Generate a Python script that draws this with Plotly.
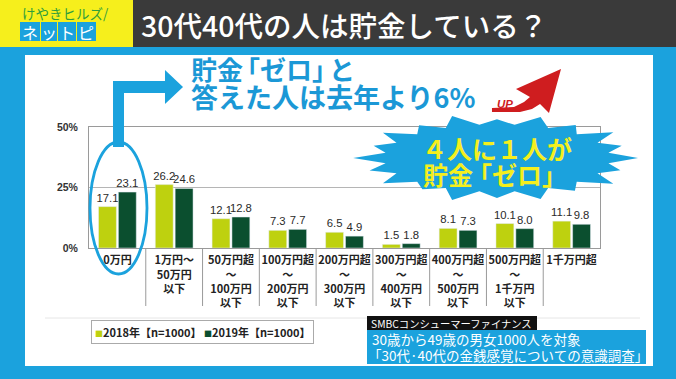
import math
import plotly.graph_objects as go

# ---------------- data ----------------
categories = [
    "0万円",
    "1万円～<br>50万円<br>以下",
    "50万円超<br>～<br>100万円<br>以下",
    "100万円超<br>～<br>200万円<br>以下",
    "200万円超<br>～<br>300万円<br>以下",
    "300万円超<br>～<br>400万円<br>以下",
    "400万円超<br>～<br>500万円<br>以下",
    "500万円超<br>～<br>1千万円<br>以下",
    "1千万円超",
]
values_2018 = [17.1, 26.2, 12.1, 7.3, 6.5, 1.5, 8.1, 10.1, 11.1]
values_2019 = [23.1, 24.6, 12.8, 7.7, 4.9, 1.8, 7.3, 8.0, 9.8]
series_names = ["2018年【n=1000】", "2019年【n=1000】"]
y_tick_values = [0, 25, 50]
y_tick_labels = ["0%", "25%", "50%"]

# ---------------- styling ----------------
W, H = 676, 379
PL, PR, PT, PB = 89, 600, 127, 248   # plot area in pixels
JP = "Noto Sans CJK JP"
C_LIGHT = "#bed10f"
C_DARK = "#0b4f2f"
C_BLUE = "#1ba2dd"
C_TXTBLUE = "#1b98d6"


def px(x):
    return (x - PL) / (PR - PL)


def py(y):
    return (PB - y) / (PB - PT)


def path(points):
    return "M " + " L ".join(f"{px(x):.4f},{py(y):.4f}" for x, y in points) + " Z"


def rect(x0, y0, x1, y1, color, layer="above", line=None):
    d = dict(type="rect", xref="paper", yref="paper",
             x0=px(x0), x1=px(x1), y0=py(y1), y1=py(y0),
             fillcolor=color, layer=layer, line=dict(width=0))
    if line:
        d["line"] = line
    return d


def tight(s, sp):
    """compress the blank half of the corner brackets"""
    out = ""
    for i, ch in enumerate(s):
        nxt = s[i + 1] if i + 1 < len(s) else ""
        if nxt == "「" or (ch == "」" and nxt):
            out += f"<span style='letter-spacing:-{sp}px'>{ch}</span>"
        else:
            out += ch
    return out


fig = go.Figure()
fig.add_trace(go.Bar(
    x=categories, y=values_2018, name=series_names[0], marker_color=C_LIGHT,
    text=[f"{v:.1f}" for v in values_2018], textposition="outside", cliponaxis=False,
    constraintext="none",
    textfont=dict(family="Liberation Sans", size=11.3, color="#2a2a2a"),
))
fig.add_trace(go.Bar(
    x=categories, y=values_2019, name=series_names[1], marker_color=C_DARK,
    text=[f"{v:.1f}" for v in values_2019], textposition="outside", cliponaxis=False,
    constraintext="none",
    textfont=dict(family="Liberation Sans", size=11.3, color="#2a2a2a"),
))

shapes = []
# panels
shapes.append(rect(25, 55, 653, 366, "white", layer="below"))
shapes.append(rect(0, 0, W, 47, "#3a3a3a"))
shapes.append(rect(0, 0, 133, 47, "#f6ef1c"))
# logo boxes
for x0, x1 in [(20, 40), (41, 57), (58, 76), (77, 96)]:
    shapes.append(rect(x0, 22, x1, 41, C_BLUE))
# faint separator line above legend
shapes.append(dict(type="line", xref="paper", yref="paper", x0=px(45), x1=px(640),
                   y0=py(318), y1=py(318), line=dict(color="#e6e6e6", width=1), layer="below"))
# category separator lines under axis
for i in range(len(categories) - 1):
    shapes.append(dict(type="line", xref="x", yref="paper", x0=i + 0.5, x1=i + 0.5,
                       y0=0, y1=py(306), line=dict(color="#9a9a9a", width=1)))
# source boxes
shapes.append(rect(367, 316, 537, 330, "#111111"))
shapes.append(rect(367, 330, 646, 364, C_BLUE))
# ellipse around first category
shapes.append(dict(type="circle", xref="paper", yref="paper",
                   x0=px(90), x1=px(147), y0=py(274), y1=py(142),
                   line=dict(color=C_BLUE, width=2.8)))
# elbow arrow
shapes.append(dict(type="path", xref="paper", yref="paper", layer="above",
                   path=path([(113, 147), (113, 81), (165, 81), (165, 70), (183, 87),
                              (165, 104), (165, 93), (124, 93), (124, 147)]),
                   fillcolor=C_BLUE, line=dict(width=0)))
# red UP arrow
shapes.append(dict(type="path", xref="paper", yref="paper",
                   path=path([(492, 108), (514, 107), (524, 102), (530, 97), (516, 89), (561, 69),
                              (549, 113), (540, 104), (532, 109), (520, 112), (492, 112)]),
                   fillcolor="#cf1d1f", line=dict(width=0)))
# starburst
cx, cy, rx, ry = 497, 158, 141, 43
outer = [1.0, 0.93, 1.02, 0.95, 1.0, 0.9, 1.03, 0.94, 1.0, 0.92,
         1.02, 0.95, 1.0, 0.9, 1.03, 0.93, 1.0, 0.94, 1.02, 0.92]
n = len(outer)
pts = []
for k in range(n):
    a = 2 * math.pi * k / n
    pts.append((cx + rx * outer[k] * math.cos(a), cy - ry * outer[k] * math.sin(a)))
    b = 2 * math.pi * (k + 0.5) / n
    pts.append((cx + rx * 0.8 * math.cos(b), cy - ry * 0.78 * math.sin(b)))
shapes.append(dict(type="path", xref="paper", yref="paper", path=path(pts),
                   fillcolor=C_BLUE, line=dict(width=0)))

ann = []


def text(x, y, s, size, color, xanchor="left", weight="normal", family=JP, **kw):
    ann.append(dict(x=px(x), y=py(y), xref="paper", yref="paper", text=s, showarrow=False,
                    xanchor=xanchor, yanchor="middle",
                    font=dict(family=family, size=size, color=color, weight=weight), **kw))


text(139, 24, "30代40代の人は貯金している？", 28.5, "white", weight=500)
text(20, 13, "けやきヒルズ/", 13.5, "#2f9e3c")
for cxl, ch in [(30, "ネ"), (49, "ッ"), (67, "ト"), (86, "ピ")]:
    text(cxl, 31.5, ch, 16, "white", xanchor="center")
text(189, 68, tight("貯金「ゼロ」と", 9), 26, C_TXTBLUE, weight="bold")
text(189, 96, "答えた人は去年より6%", 27, C_TXTBLUE, weight="bold")
text(505, 104, "<i>UP</i>", 11.5, "#cf1d1f", xanchor="center", weight="bold", family="Liberation Sans")
text(497, 148, "４人に１人が", 25, "#f4ef1e", xanchor="center", weight="bold")
text(495, 174, tight("貯金「ゼロ」", 6), 25, "#f4ef1e", xanchor="center", weight="bold")
text(369, 323, "SMBCコンシューマーファイナンス", 10.3, "white")
text(370, 339, "30歳から49歳の男女1000人を対象", 13.5, "white")
text(366, 355, "「30代·40代の金銭感覚についての意識調査」", 13.5, "white")
legend_txt = (f"<span style='color:{C_LIGHT};font-size:8px'>■</span>{series_names[0]} "
              f"<span style='color:{C_DARK};font-size:8px'>■</span>{series_names[1]}")
text(202, 332, legend_txt, 11, "#222", xanchor="center", weight="bold",
     bordercolor="#aaaaaa", borderwidth=1, borderpad=3, bgcolor="white")

fig.update_layout(
    width=W, height=H,
    margin=dict(l=PL, r=W - PR, t=PT, b=H - PB, pad=0),
    paper_bgcolor=C_BLUE, plot_bgcolor="white",
    barmode="group", bargap=0.3, bargroupgap=0.1,
    showlegend=False,
    shapes=shapes, annotations=ann,
    font=dict(family=JP),
)
fig.update_xaxes(range=[-0.5, len(categories) - 0.5], showline=True, mirror=True,
                 linecolor="#9a9a9a", linewidth=1, showgrid=False, ticks="",
                 tickfont=dict(family=JP, size=11, color="#222", weight="bold"),
                 ticklabelstandoff=2, tickangle=0)
fig.update_yaxes(range=[0, 50], tickvals=y_tick_values, ticktext=y_tick_labels,
                 showline=True, mirror=True, linecolor="#9a9a9a", linewidth=1,
                 showgrid=True, gridcolor="#b5b5b5", zeroline=False, ticks="",
                 tickfont=dict(family="Liberation Sans", size=10.5, color="#333", weight="bold"),
                 ticklabelstandoff=8)

fig.write_html("out.html", config={"displayModeBar": False})
# remove the browser's default page margin so the figure fills the window
with open("out.html", encoding="utf-8") as f:
    html = f.read()
html = html.replace("<head>", "<head><style>html,body{margin:0;padding:0;overflow:hidden;}</style>", 1)
with open("out.html", "w", encoding="utf-8") as f:
    f.write(html)
